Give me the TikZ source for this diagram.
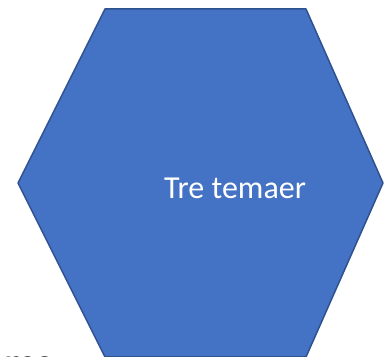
\documentclass[tikz,border=0pt]{standalone}
\usepackage{fontspec}
\setmainfont{Carlito}

\begin{document}
\begin{tikzpicture}[x=1pt, y=1pt, line join=round]

    \useasboundingbox (0,0) rectangle (384,357);
    \clip (0,0) rectangle (384,357);

    % draw corners
    \foreach [count=\i] \x/\y in {105/348, 306/348, 383/174, 306/0, 105/0, 18/174}
        \coordinate (h\i) at (\x, \y);

    % draw hexagon
    \draw [fill={rgb,255:red,68;green,114;blue,196},
           draw={rgb,255:red,47;green,82;blue,143}, line width=1.5pt]
        (h1) -- (h2) -- (h3) -- (h4) -- (h5) -- (h6) -- cycle;

    % draw labels
    \node [text=white, font=\fontsize{32}{38}\selectfont, inner sep=0pt]
        (theme) at (235, 169) {Tre temaer};
    \node [anchor=base west, font=\fontsize{40}{46}\selectfont\bfseries, inner sep=0pt]
        (cut) at (4, -20) {ms};

\end{tikzpicture}
\end{document}
